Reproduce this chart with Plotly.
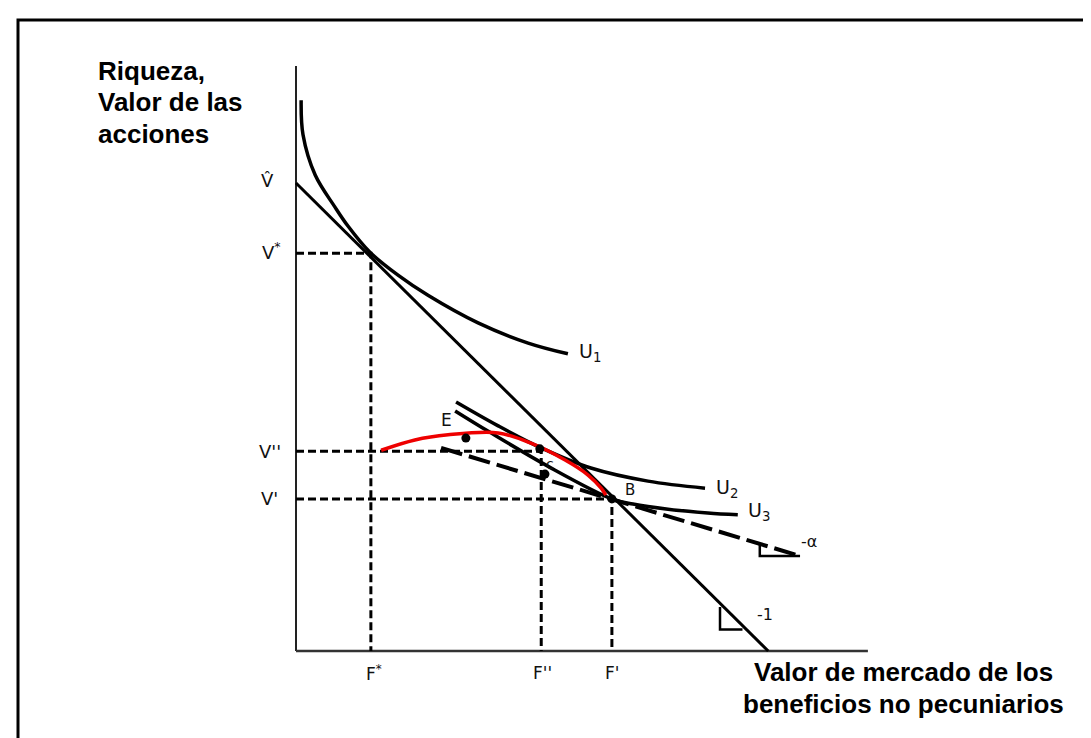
import plotly.graph_objects as go

# ---------------- data (diagram units: V-hat = 100) ----------------
V_HAT = 100.0          # intercept on the wealth axis
F_BAR = 100.9          # intercept on the perquisites axis
F_STAR, V_STAR = 16.0, 85.0
F_DP, V_DP = 52.4, 42.7      # F'', V''
F_P, V_P = 67.5, 32.5        # F', V'
Y_AXIS_TOP = 125.0
X_AXIS_END = 122.2

alpha_x = [31.0, 107.7]
alpha_y = [43.4, 20.3]

u1_x = [1.1, 1.5, 4.1, 8.3, 11.1, 15.8, 21.8, 28.2, 38.9, 49.6, 58.1]
u1_y = [117.7, 110.3, 101.7, 94.9, 90.8, 85.2, 80.3, 76.0, 70.1, 65.8, 63.5]

u2_x = [34.2, 43.2, 52.4, 63.0, 75.2, 87.4]
u2_y = [53.2, 48.1, 43.4, 39.1, 36.3, 34.8]

u3_x = [34.0, 41.0, 53.8, 67.5, 72.0, 79.5, 88.0, 94.4]
u3_y = [51.3, 47.0, 39.5, 32.5, 31.4, 30.3, 29.5, 29.1]

red_x = [18.2, 25.4, 32.5, 43.2, 50.2, 57.5, 62.4, 65.2, 66.2]
red_y = [42.9, 45.1, 46.2, 46.6, 44.4, 40.8, 37.6, 34.8, 33.3]

tri1_x = [90.6, 90.6, 95.4]
tri1_y = [9.4, 4.6, 4.6]
tria_x = [99.1, 99.1, 107.7]
tria_y = [23.1, 20.3, 20.3]

dots_x = [67.5, 36.3, 52.1, 53.2]
dots_y = [32.5, 45.5, 43.2, 37.8]

# ---------------- figure ----------------
W, H = 1091, 738
SCALE = 4.68             # pixels per unit
X0_PX, Y0_PX = 288, 643  # origin position in pixels

fig = go.Figure()

def line(x, y, width=3, color="black", dash=None, shape="linear"):
    fig.add_trace(go.Scatter(
        x=x, y=y, mode="lines",
        line=dict(color=color, width=width, dash=dash, shape=shape,
                  smoothing=1.0 if shape == "spline" else None),
        hoverinfo="skip", showlegend=False))

GUIDE = "8px,4px"
# axes
line([0, 0], [0, Y_AXIS_TOP], width=2, color="#222")
line([0, X_AXIS_END], [0, 0], width=2.5, color="#333")
# dashed guides
line([0, F_STAR, F_STAR], [V_STAR, V_STAR, 0], width=3, dash=GUIDE)
line([0, F_DP, F_DP], [V_DP, V_DP, 0], width=3, dash=GUIDE)
line([0, F_P, F_P], [V_P, V_P, 0], width=3, dash=GUIDE)
# budget line slope -1
line([0, F_BAR], [V_HAT, 0], width=3)
# slope -alpha dashed line
line(alpha_x, alpha_y, width=4, dash="22px,7px")
# indifference curves
line(u1_x, u1_y, width=3.5, shape="spline")
line(u2_x, u2_y, width=3.5, shape="spline")
line(u3_x, u3_y, width=3.5, shape="spline")
# red curve
line(red_x, red_y, width=3.5, color="#ee0000", shape="spline")
# slope triangles
line(tri1_x, tri1_y, width=2.5)
line(tria_x, tria_y, width=2.5)
# points
fig.add_trace(go.Scatter(x=dots_x, y=dots_y, mode="markers",
                         marker=dict(color="black", size=9),
                         hoverinfo="skip", showlegend=False))

ann = []
HAND = dict(family="DejaVu Sans", color="#111")
def label(x, y, text, size=17, xanchor="center"):
    ann.append(dict(x=x, y=y, text=text, showarrow=False, xanchor=xanchor,
                    yanchor="middle", font=dict(size=size, **HAND)))

label(-6.0, 100.5, "V\u0302", 18)
label(-5.2, 85.5, "V<sup>*</sup>", 18)
label(-5.6, 42.7, "V''", 18)
label(-5.6, 32.5, "V'", 18)
label(16.6, -4.6, "F<sup>*</sup>", 17)
label(52.6, -4.6, "F''", 17)
label(67.6, -4.6, "F'", 17)
label(62.8, 63.7, "U<sub>1</sub>", 19)
label(92.0, 34.8, "U<sub>2</sub>", 19)
label(99.0, 29.9, "U<sub>3</sub>", 19)
label(32.2, 49.4, "E", 17)
label(54.2, 39.9, "c", 14)
label(71.3, 34.4, "B", 15)
label(100.3, 7.9, "-1", 16)
label(109.6, 23.5, "-\u03b1", 16)

BOLD = dict(family="Liberation Sans, Arial", color="black", size=26)
for txt, y in [("<b>Riqueza,</b>", 123.9), ("<b>Valor de las</b>", 117.3),
               ("<b>acciones</b>", 110.5)]:
    ann.append(dict(x=-42.7, y=y, text=txt, showarrow=False, xanchor="left",
                    yanchor="middle", font=BOLD))
for txt, y in [("<b>Valor de mercado de los</b>", -4.5),
               ("<b>beneficios no pecuniarios</b>", -11.3)]:
    ann.append(dict(x=129.7, y=y, text=txt, showarrow=False, xanchor="center",
                    yanchor="middle", font=BOLD))

x_range = [-X0_PX / SCALE, (W - X0_PX) / SCALE]
y_range = [-(H - Y0_PX) / SCALE, Y0_PX / SCALE]

fig.update_layout(
    width=W, height=H,
    margin=dict(l=0, r=0, t=0, b=0),
    paper_bgcolor="white", plot_bgcolor="white",
    xaxis=dict(range=x_range, visible=False, fixedrange=True),
    yaxis=dict(range=y_range, visible=False, fixedrange=True),
    annotations=ann,
    shapes=[dict(type="rect", xref="paper", yref="paper",
                 x0=10 / W, x1=1088 / W, y0=-0.05, y1=1 - 12 / H,
                 line=dict(color="black", width=3))],
)

fig.write_html("out.html")
